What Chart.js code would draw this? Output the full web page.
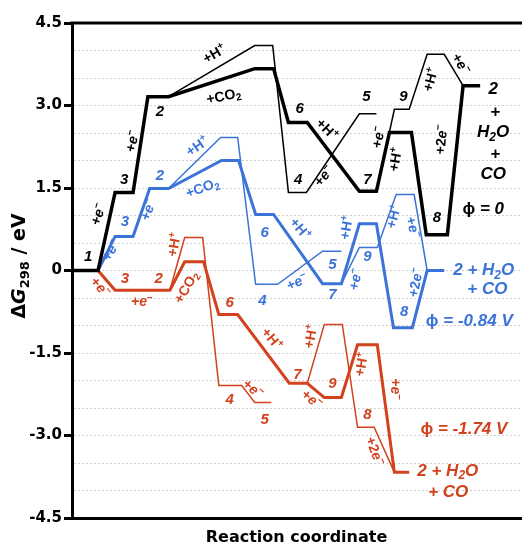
<!DOCTYPE html>
<html lang="en">
<head>
<meta charset="UTF-8" />
<title>Reaction energy diagram</title>
<script src="https://cdn.jsdelivr.net/npm/chart.js"></script>
<style>
  html, body { margin: 0; padding: 0; background: #fff; }
  #wrap { width: 522px; height: 547px; position: relative; }
</style>
</head>
<body>
<div id="wrap"><canvas id="myChart"></canvas></div>
<script>
// reaction coordinate (arbitrary 0-100) , dG298 in eV
const blackMain = [[0,0],[5.8,0],[9.6,1.42],[13.6,1.42],[16.9,3.16],[21.5,3.16],[40.7,3.67],[44.9,3.67],[48.2,2.69],[52.4,2.69],[64.0,1.44],[67.8,1.44],[70.7,2.51],[75.6,2.51],[78.9,0.65],[83.6,0.65],[87.1,3.36],[90.9,3.36]];
const blackH = [[21.5,3.16],[40.7,4.09],[44.7,4.09],[48.2,1.42],[52.2,1.42],[64.0,2.85],[67.8,2.85]];
const blackE = [[67.8,1.44],[71.8,2.93],[75.1,2.93],[79.1,3.93],[82.9,3.93],[87.1,3.36]];

const blueMain = [[5.8,0],[9.6,0.62],[13.6,0.62],[17.3,1.49],[21.5,1.49],[33.3,2.0],[37.1,2.0],[40.9,1.02],[44.9,1.02],[55.8,-0.24],[60.0,-0.24],[64.0,0.85],[67.8,0.85],[71.6,-1.04],[75.8,-1.04],[79.1,0],[82.9,0]];
const blueH = [[21.5,1.49],[33.1,2.42],[36.9,2.42],[40.9,-0.25],[45.8,-0.25],[55.8,0.35],[60.0,0.35]];
const blueE = [[60.0,-0.24],[64.0,0.42],[68.0,0.42],[72.2,1.38],[76.2,1.38],[79.1,0]];

const redMain = [[5.8,0],[9.6,-0.36],[21.8,-0.36],[25.1,0.16],[29.3,0.16],[32.7,-0.80],[36.9,-0.80],[48.4,-2.05],[52.4,-2.05],[56.2,-2.31],[60.0,-2.31],[63.6,-1.35],[68.0,-1.35],[71.8,-3.67],[75.1,-3.67]];
const redH = [[21.8,-0.36],[25.1,0.6],[29.1,0.6],[32.7,-2.09],[37.8,-2.09],[40.7,-2.4],[44.4,-2.4]];
const redE = [[52.4,-2.05],[56.2,-0.98],[60.2,-0.98],[63.6,-2.85],[67.3,-2.85],[71.8,-3.67]];

const yLabels = [4.5, 3.0, 1.5, 0, -1.5, -3.0, -4.5];

// labels: text, x, y, rotation (deg)  ~ toggles italic, ^ sup, _ sub
const blackNums = [['1',3.6,0.24],['3',11.6,1.65],['2',19.6,2.89],['6',50.7,2.93],['4',50.4,1.64],['5',65.6,3.15],['7',65.8,1.64],['9',73.8,3.16],['8',81.3,0.96]];
const blackSteps = [['+~e~^−',6.0,1.02,-72],['+~e~^−',13.6,2.35,-78],['+H^+',31.8,3.93,-30],['+CO_2',33.8,3.16,-12],['+H^+',56.7,2.56,45],['+~e~^−',56.2,1.71,-50],['+~e~^−',68.4,2.42,-80],['+H^+',72.2,2.02,-80],['+H^+',80.0,3.47,-75],['+~e~^−',86.5,3.75,60],['+2~e~^−',82.4,2.38,-85]];
const blackNotes = [['~2~',93.8,3.29],['+',94.3,2.87],['~H_2O~',93.8,2.51],['+',94.3,2.11],['~CO~',93.8,1.75],['ϕ ~= 0~',91.6,1.11]];

const blueNums = [['3',11.8,0.88],['2',19.6,1.72],['6',42.9,0.69],['4',42.4,-0.56],['5',58.0,0.11],['7',58.0,-0.44],['9',65.8,0.24],['8',74.0,-0.76]];
const blueSteps = [['+~e~^−',8.8,0.36,-60],['+~e~^−',17.1,1.1,-70],['+H^+',28.0,2.25,-35],['+CO_2',29.1,1.49,-20],['+H^+',50.7,0.75,50],['+~e~^−',50.2,-0.22,-25],['+H^+',61.3,0.78,-80],['+~e~^−',63.3,-0.16,-80],['+H^+',71.8,0.98,-75],['+~e~^−',75.8,0.78,75],['+2~e~^−',76.7,-0.22,-80]];
const blueNotes = [['~2 + H_2O~',84.9,0,'left'],['~+ CO~',92.5,-0.35,'center'],['ϕ ~= -0.84 V~',78.8,-0.93,'left']];

const redNums = [['3',11.8,-0.15],['2',19.3,-0.15],['6',35.1,-0.58],['4',35.1,-2.35],['5',42.9,-2.71],['7',50.2,-1.89],['9',58.0,-2.07],['8',65.8,-2.62]];
const redSteps = [['+~e~^−',6.2,-0.31,50],['+~e~^−',15.6,-0.58,0],['+CO_2',25.6,-0.31,-60],['+H^+',22.9,0.47,-80],['+H^+',44.4,-1.25,50],['+~e~^−',40.2,-2.16,40],['+~e~^−',53.3,-2.35,40],['+H^+',53.3,-1.2,-80],['+H^+',64.6,-1.71,-80],['+~e~^−',71.8,-2.16,90],['+2~e~^−',67.3,-3.29,70]];
const redNotes = [['ϕ ~= -1.74 V~',77.6,-2.89,'left'],['~2 + H_2O~',76.9,-3.65,'left'],['~+ CO~',83.8,-4.04,'center']];

const BLACK = '#000000';
const BLUE = '#3b73d8';
const RED = '#d1421d';
const FONT = '"Liberation Sans", Arial, Helvetica, sans-serif';
const AXISFONT = '"DejaVu Sans", "Liberation Sans", sans-serif';

function toPts(arr) {
  return arr.map(function (p) { return { x: p[0], y: p[1] }; });
}

function line(data, color, width) {
  return {
    data: toPts(data),
    borderColor: color,
    borderWidth: width,
    pointRadius: 0,
    tension: 0,
    fill: false,
    borderJoinStyle: 'miter',
    borderCapStyle: 'butt'
  };
}

// tiny rich text: ~ italic toggle, ^x superscript, _x subscript
function drawRich(ctx, str, x, y, size, color, rot, align, family) {
  const fam = family || FONT;
  const segs = [];
  let it = false;
  for (let i = 0; i < str.length; i++) {
    const c = str[i];
    if (c === '~') { it = !it; continue; }
    if (c === '^' || c === '_') {
      segs.push({ t: str[i + 1], k: c === '^' ? 'sup' : 'sub', it: it });
      i++;
      continue;
    }
    segs.push({ t: c, k: 'n', it: it });
  }
  const small = Math.round(size * 0.68);
  const fontOf = function (s) {
    return (s.it ? 'italic ' : '') + 'bold ' + (s.k === 'n' ? size : small) + 'px ' + fam;
  };
  let w = 0;
  segs.forEach(function (s) { ctx.font = fontOf(s); s.w = ctx.measureText(s.t).width; w += s.w; });
  ctx.save();
  ctx.translate(x, y);
  ctx.rotate((rot || 0) * Math.PI / 180);
  ctx.fillStyle = color;
  ctx.textBaseline = 'middle';
  ctx.textAlign = 'left';
  let cx = align === 'left' ? 0 : -w / 2;
  segs.forEach(function (s) {
    ctx.font = fontOf(s);
    let dy = 0;
    if (s.k === 'sup') dy = -size * 0.32;
    if (s.k === 'sub') dy = size * 0.28;
    ctx.fillText(s.t, cx, dy);
    cx += s.w;
  });
  ctx.restore();
}

const labelPlugin = {
  id: 'labelPlugin',
  afterDatasetsDraw(chart) {
    const ctx = chart.ctx;
    const xs = chart.scales.x;
    const ys = chart.scales.y;
    const put = function (list, color, size, italicNum) {
      list.forEach(function (l) {
        const txt = italicNum ? '~' + l[0] + '~' : l[0];
        const align = typeof l[3] === 'string' ? l[3] : 'center';
        const rot = typeof l[3] === 'number' ? l[3] : 0;
        drawRich(ctx, txt, xs.getPixelForValue(l[1]), ys.getPixelForValue(l[2]), size, color, rot, align);
      });
    };
    put(blackNums, BLACK, 15, true);
    put(blackSteps, BLACK, 14, false);
    put(blackNotes, BLACK, 17, false);
    put(blueNums, BLUE, 15, true);
    put(blueSteps, BLUE, 14, false);
    put(blueNotes, BLUE, 17, false);
    put(redNums, RED, 15, true);
    put(redSteps, RED, 14, false);
    put(redNotes, RED, 17, false);
  },
  afterDraw(chart) {
    const ctx = chart.ctx;
    const a = chart.chartArea;
    // top frame line
    ctx.save();
    ctx.strokeStyle = '#000';
    ctx.lineWidth = 3;
    ctx.beginPath();
    ctx.moveTo(a.left - 1.5, a.top);
    ctx.lineTo(chart.width, a.top);
    ctx.stroke();
    ctx.restore();
    // y axis title
    drawRich(ctx, 'Δ~G~_2_9_8 / eV', 20, 266, 19, '#000', -90, 'center', AXISFONT);
  }
};

Chart.defaults.font.family = FONT;

new Chart(document.getElementById('myChart'), {
  type: 'line',
  data: {
    datasets: [
      line(blackMain, BLACK, 3.5),
      line(blackH, BLACK, 1.5),
      line(blackE, BLACK, 1.5),
      line(blueMain, BLUE, 3),
      line(blueH, BLUE, 1.5),
      line(blueE, BLUE, 1.5),
      line(redMain, RED, 3),
      line(redH, RED, 1.5),
      line(redE, RED, 1.5)
    ]
  },
  options: {
    responsive: true,
    maintainAspectRatio: false,
    animation: false,
    layout: { padding: { top: 23, right: 1, left: 0, bottom: 0 } },
    plugins: {
      legend: { display: false },
      tooltip: { enabled: false }
    },
    scales: {
      x: {
        type: 'linear',
        min: 0,
        max: 100,
        ticks: { display: false },
        grid: { display: false },
        border: { display: true, color: '#000', width: 3 },
        title: {
          display: true,
          text: 'Reaction coordinate',
          color: '#000',
          font: { family: AXISFONT, size: 16, weight: 'bold' },
          padding: { top: 0, bottom: 0 }
        },
        afterFit: function (scale) { scale.height = 29; }
      },
      y: {
        min: -4.5,
        max: 4.5,
        afterBuildTicks: function (scale) {
          const t = [];
          for (let v = -4.5; v <= 4.5001; v += 0.5) t.push({ value: Math.round(v * 10) / 10 });
          scale.ticks = t;
        },
        ticks: {
          autoSkip: false,
          color: '#000',
          padding: 2,
          font: { family: AXISFONT, size: 15, weight: 'bold' },
          callback: function (v) {
            const hit = yLabels.find(function (l) { return Math.abs(l - v) < 1e-6; });
            if (hit === undefined) return '';
            return hit === 0 ? '0' : hit.toFixed(1);
          }
        },
        grid: {
          color: function (c) { return Math.abs(c.tick.value) > 4.4 ? 'transparent' : '#cfcfcf'; },
          lineWidth: 1,
          tickLength: 8,
          tickWidth: 3,
          tickColor: function (c) {
            return yLabels.some(function (l) { return Math.abs(l - c.tick.value) < 1e-6; }) ? '#000' : 'transparent';
          }
        },
        border: { display: true, color: '#000', width: 3, dash: [2, 2] },
        afterFit: function (scale) { scale.width = 72; }
      }
    }
  },
  plugins: [labelPlugin]
});
</script>
</body>
</html>
